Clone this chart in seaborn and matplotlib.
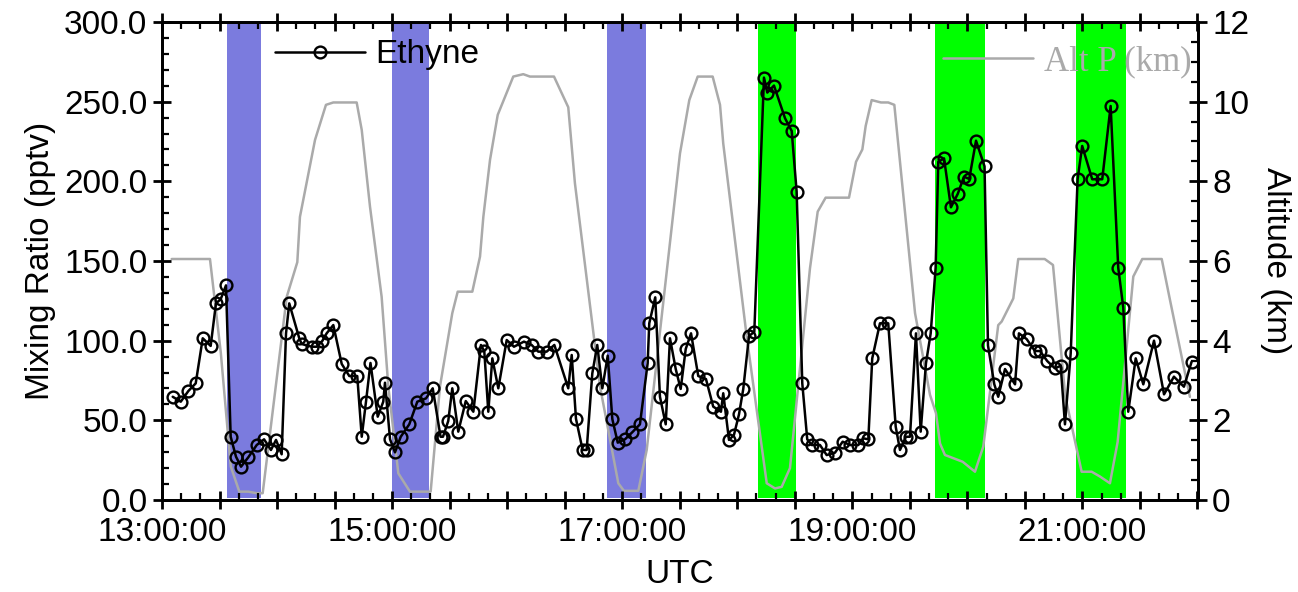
import numpy as np
import pandas as pd
import matplotlib
matplotlib.use("Agg")
import matplotlib.pyplot as plt
import seaborn as sns
from matplotlib.ticker import MultipleLocator, FuncFormatter, FormatStrFormatter

# ---------------- data ----------------
ethyne_time_h = [
    13.093, 13.163, 13.229, 13.293, 13.354, 13.423, 13.469, 13.510, 13.556, 13.597,
    13.643, 13.687, 13.750, 13.823, 13.887, 13.947, 13.991, 14.040, 14.078, 14.106,
    14.193, 14.214, 14.301, 14.345, 14.393, 14.431, 14.489, 14.562, 14.628, 14.697,
    14.736, 14.773, 14.812, 14.875, 14.923, 14.938, 14.982, 15.025, 15.075, 15.149,
    15.219, 15.295, 15.353, 15.421, 15.442, 15.488, 15.523, 15.575, 15.640, 15.706,
    15.772, 15.801, 15.836, 15.871, 15.923, 15.996, 16.059, 16.146, 16.213, 16.270,
    16.343, 16.410, 16.531, 16.561, 16.598, 16.656, 16.691, 16.740, 16.783, 16.827,
    16.874, 16.914, 16.961, 17.024, 17.087, 17.154, 17.221, 17.235, 17.287, 17.328,
    17.378, 17.415, 17.465, 17.508, 17.552, 17.598, 17.661, 17.728, 17.791, 17.858,
    17.878, 17.928, 17.971, 18.015, 18.052, 18.102, 18.148, 18.232, 18.261, 18.319,
    18.415, 18.473, 18.516, 18.565, 18.608, 18.647, 18.719, 18.777, 18.849, 18.916,
    18.980, 19.052, 19.095, 19.139, 19.173, 19.240, 19.312, 19.377, 19.414, 19.466,
    19.501, 19.553, 19.594, 19.640, 19.681, 19.724, 19.747, 19.797, 19.857, 19.916,
    19.970, 20.016, 20.075, 20.149, 20.179, 20.234, 20.268, 20.327, 20.414, 20.448,
    20.515, 20.587, 20.631, 20.694, 20.761, 20.811, 20.848, 20.898, 20.958, 20.998,
    21.085, 21.172, 21.245, 21.311, 21.355, 21.398, 21.463, 21.529, 21.622, 21.709,
    21.795, 21.882, 21.949,
]
ethyne_pptv = [
    64.8, 61.7, 68.4, 73.2, 101.5, 96.7, 123.4, 126.0, 134.7, 39.7,
    27.2, 20.9, 26.8, 34.5, 38.1, 31.4, 37.7, 28.7, 104.6, 123.4,
    101.5, 97.9, 96.2, 96.2, 99.8, 104.6, 109.8, 85.4, 77.8, 77.8,
    39.7, 61.7, 86.0, 52.3, 61.7, 73.6, 38.1, 29.9, 39.7, 47.5,
    61.7, 63.8, 70.1, 39.7, 39.7, 49.6, 70.1, 42.9, 62.1, 55.4,
    97.3, 93.5, 55.4, 88.9, 70.1, 100.4, 96.2, 99.4, 97.3, 93.1,
    93.1, 97.3, 70.1, 91.0, 51.0, 31.4, 31.4, 79.5, 97.3, 70.1,
    90.6, 50.8, 36.0, 38.1, 42.5, 47.5, 85.8, 110.9, 127.2, 64.8,
    47.5, 101.5, 82.2, 69.7, 94.8, 104.6, 77.8, 75.9, 58.6, 55.4,
    67.0, 37.7, 40.8, 53.8, 69.7, 102.9, 105.6, 265.1, 255.7, 260.1,
    239.6, 231.6, 193.5, 73.2, 38.1, 34.5, 34.5, 28.2, 29.7, 36.6,
    34.5, 34.5, 38.7, 38.1, 88.9, 110.9, 110.9, 46.0, 31.4, 39.7,
    39.7, 104.6, 42.9, 85.8, 104.6, 145.8, 212.3, 214.4, 183.7, 192.1,
    202.9, 201.5, 225.5, 209.4, 97.0, 72.6, 64.8, 82.2, 72.6, 104.6,
    101.0, 93.5, 93.5, 87.2, 82.6, 84.3, 47.5, 92.1, 201.3, 222.2,
    201.3, 201.3, 247.3, 145.8, 120.7, 55.4, 88.9, 72.6, 100.0, 66.3,
    77.4, 71.1, 86.8,
]

alt_time_h = [
    13.084, 13.417, 13.511, 13.598, 13.672, 13.750, 13.823, 13.875, 14.084, 14.176,
    14.199, 14.330, 14.425, 14.489, 14.692, 14.736, 14.808, 14.909, 14.967, 15.054,
    15.155, 15.335, 15.416, 15.523, 15.570, 15.697, 15.764, 15.793, 15.851, 15.918,
    16.053, 16.140, 16.198, 16.407, 16.531, 16.589, 16.807, 16.966, 17.015, 17.140,
    17.213, 17.502, 17.583, 17.656, 17.786, 17.850, 17.878, 18.082, 18.256, 18.328,
    18.386, 18.458, 18.632, 18.699, 18.768, 18.971, 19.032, 19.087, 19.116, 19.168,
    19.249, 19.312, 19.365, 19.545, 19.675, 19.727, 19.762, 19.805, 19.959, 20.066,
    20.138, 20.268, 20.298, 20.399, 20.442, 20.672, 20.744, 20.851, 20.993, 21.080,
    21.152, 21.239, 21.306, 21.442, 21.520, 21.689, 21.761, 21.934,
]
alt_km = [
    6.05, 6.05, 3.70, 0.84, 0.21, 0.21, 0.17, 0.17, 5.10, 5.97,
    7.11, 9.04, 9.92, 9.98, 9.98, 9.29, 7.36, 5.10, 2.85, 0.67,
    0.21, 0.21, 2.85, 4.69, 5.23, 5.23, 6.11, 7.11, 8.54, 9.67,
    10.63, 10.69, 10.63, 10.63, 9.86, 7.95, 2.85, 0.42, 0.23, 0.23,
    1.26, 8.70, 10.04, 10.63, 10.63, 9.92, 8.95, 4.10, 0.42, 0.29,
    0.33, 0.80, 5.82, 7.24, 7.59, 7.59, 8.49, 8.80, 9.39, 10.04,
    9.98, 9.98, 9.92, 4.69, 2.64, 2.18, 1.42, 1.13, 0.96, 0.71,
    1.34, 4.39, 4.48, 5.06, 6.05, 6.05, 5.90, 2.60, 0.71, 0.71,
    0.59, 0.42, 1.46, 5.61, 6.05, 6.05, 5.02, 2.59,
]

blue_periods = [(13.567, 13.858), (14.996, 15.323), (16.865, 17.204)]
green_periods = [(18.177, 18.508), (19.718, 20.153), (20.944, 21.376)]

# ---------------- style ----------------
sns.set_style("white")
plt.rcParams["font.family"] = ["Liberation Sans", "DejaVu Sans"]
plt.rcParams["font.size"] = 24
for k in ("text.color", "axes.labelcolor", "xtick.color", "ytick.color",
          "axes.edgecolor"):
    plt.rcParams[k] = "black"

W, H = 1298, 592
fig = plt.figure(figsize=(W / 100, H / 100), dpi=100)
ax = fig.add_axes([162 / W, 1 - 500 / H, (1197.5 - 162) / W, 478 / H])
ax2 = ax.twinx()

# put the ethyne axis on top, altitude + shading behind it
ax.set_zorder(ax2.get_zorder() + 1)
ax.patch.set_visible(False)
ax2.patch.set_visible(True)
ax2.patch.set_facecolor("white")

BLUE = "#7b7bde"
GREEN = "#00ff00"
GRAY = "#aaaaaa"

for a, b in blue_periods:
    ax2.axvspan(a, b, ymin=0.004, ymax=1, color=BLUE, lw=0, zorder=1)
for a, b in green_periods:
    ax2.axvspan(a, b, ymin=0.004, ymax=1, color=GREEN, lw=0, zorder=1)

alt_df = pd.DataFrame({"t": alt_time_h, "alt": alt_km})
sns.lineplot(data=alt_df, x="t", y="alt", ax=ax2, color=GRAY, linewidth=1.8,
             estimator=None, sort=False, zorder=2, legend=False)
alt_line = ax2.get_lines()[-1]

eth_df = pd.DataFrame({"t": ethyne_time_h, "v": ethyne_pptv})
sns.lineplot(data=eth_df, x="t", y="v", ax=ax, color="black", linewidth=1.8,
             marker="o", markersize=8.5, markerfacecolor="none",
             markeredgecolor="black", markeredgewidth=1.7,
             estimator=None, sort=False, zorder=3, legend=False)
eth_line = ax.get_lines()[-1]

# ---------------- axes ----------------
ax.set_xlim(13, 22)
ax.set_ylim(0, 300)
ax2.set_ylim(0, 12)

ax.xaxis.set_major_locator(MultipleLocator(0.5))
ax.xaxis.set_minor_locator(MultipleLocator(1 / 6))


def xfmt(v, pos):
    h = int(round(v))
    if abs(v - h) < 1e-6 and h % 2 == 1:
        return f"{h:02d}:00:00"
    return ""


ax.xaxis.set_major_formatter(FuncFormatter(xfmt))
ax.yaxis.set_major_locator(MultipleLocator(50))
ax.yaxis.set_minor_locator(MultipleLocator(10))
ax.yaxis.set_major_formatter(FormatStrFormatter("%.1f"))
ax2.yaxis.set_major_locator(MultipleLocator(2))
ax2.yaxis.set_minor_locator(MultipleLocator(0.5))

ax.tick_params(axis="x", which="major", direction="inout", length=13, width=2,
               top=True, bottom=True, labelsize=24, pad=6, colors="black")
ax.tick_params(axis="x", which="minor", direction="in", length=5, width=1.6,
               top=True, bottom=True)
ax.tick_params(axis="y", which="major", direction="inout", length=13, width=2,
               left=True, right=False, labelsize=24, pad=4, colors="black")
ax.tick_params(axis="y", which="minor", direction="in", length=5, width=1.6,
               left=True, right=False)
ax2.tick_params(axis="y", which="major", direction="inout", length=13, width=2,
                right=True, labelsize=24, pad=4, colors="black")
ax2.tick_params(axis="y", which="minor", direction="in", length=5, width=1.6,
                right=True)

for a_ in (ax, ax2):
    for s in a_.spines.values():
        s.set_linewidth(2)
        s.set_color("black")

ax.set_xlabel("UTC", fontsize=24, labelpad=8, color="black")
ax.set_ylabel("Mixing Ratio (pptv)", fontsize=24, labelpad=6, color="black")
ax2.set_ylabel("Altitude (km)", fontsize=24, rotation=270, labelpad=30,
               color="black")

# ---------------- legends ----------------
leg1 = ax.legend(handles=[eth_line], labels=["Ethyne"], frameon=False,
                 loc="center left", bbox_to_anchor=(275 / W, 1 - 55 / H),
                 bbox_transform=fig.transFigure, borderpad=0, borderaxespad=0,
                 handlelength=2.7, handletextpad=0.3, fontsize=24,
                 labelcolor="black")
leg2 = ax2.legend(handles=[alt_line], labels=["Alt P (km)"], frameon=False,
                  loc="center left", bbox_to_anchor=(943 / W, 1 - 62 / H),
                  bbox_transform=fig.transFigure, borderpad=0, borderaxespad=0,
                  handlelength=2.6, handletextpad=0.3,
                  prop={"family": ["Liberation Serif", "DejaVu Serif"], "size": 25},
                  labelcolor=GRAY)
leg2.set_zorder(5)

fig.savefig("out.png", dpi=100, facecolor="white")
